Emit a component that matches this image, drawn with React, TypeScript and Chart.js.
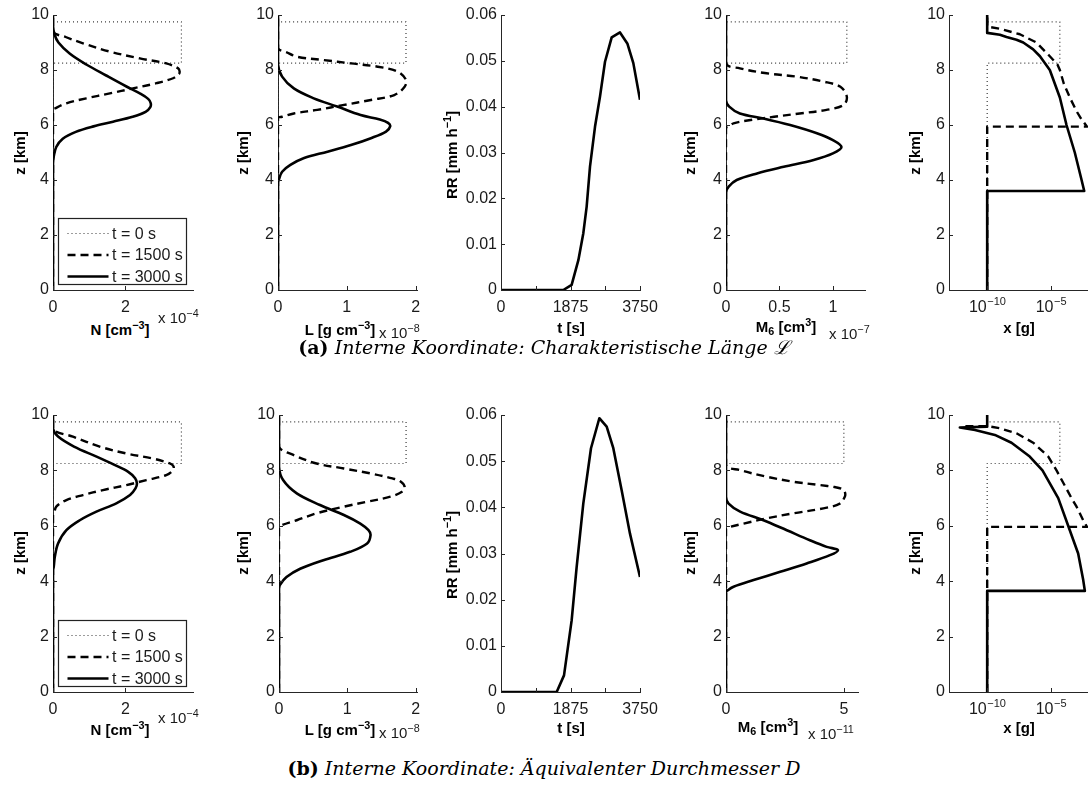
import React, { useEffect, useRef } from 'react';
import { Chart, registerables } from 'chart.js';

Chart.register(...registerables);

// ======================= DATA =======================
const SERIES_LABELS = ['t = 0 s', 't = 1500 s', 't = 3000 s'];

const Z_TICKS = [0, 2, 4, 6, 8, 10];
const RR_TICKS = [0, 0.01, 0.02, 0.03, 0.04, 0.05, 0.06];
const T_TICKS = [0, 937.5, 1875, 2812.5, 3750];
const T_TICK_LABELS = [0, 1875, 3750];
const N_TICKS = [0, 2];
const L_TICKS = [0, 1, 2];
const M6A_TICKS = [0, 0.5, 1];
const M6B_TICKS = [0, 5];
const X_TICKS = [1e-10, 1e-5];

// t = 0 s : initial top-hat layer
const Z_INIT = [0, 8.25, 8.25, 9.75, 9.75, 10];
const N_INIT = [0, 0, 3.55, 3.55, 0, 0];
const L_INIT = [0, 0, 1.86, 1.86, 0, 0];
const M6A_INIT = [0, 0, 1.13, 1.13, 0, 0];
const M6B_INIT = [0, 0, 5.0, 5.0, 0, 0];
const X_INIT = [1e-10, 1e-10, 5.1e-5, 5.1e-5, 1e-10, 1e-10];

// ---- (a) characteristic length ----
const NA_Z1500 = [0, 6.55, 6.6, 6.79, 6.97, 7.15, 7.33, 7.52, 7.7, 7.85, 7.95, 8.06, 8.24, 8.42, 8.67, 8.97, 9.2, 9.39, 10];
const NA_1500 = [0, 0, 0.05, 0.37, 0.92, 1.57, 2.21, 2.86, 3.32, 3.48, 3.5, 3.46, 3.13, 2.4, 1.57, 0.83, 0.35, 0, 0];
const NA_Z3000 = [0, 4.6, 4.85, 5.2, 5.5, 5.75, 5.95, 6.12, 6.3, 6.48, 6.65, 6.8, 6.95, 7.15, 7.4, 7.8, 8.2, 8.6, 9.0, 9.3, 9.6, 10];
const NA_3000 = [0, 0, 0.02, 0.09, 0.27, 0.63, 1.12, 1.66, 2.2, 2.56, 2.69, 2.7, 2.63, 2.4, 2.03, 1.47, 0.92, 0.46, 0.15, 0.04, 0, 0];

const LA_Z1500 = [0, 6.25, 6.3, 6.42, 6.55, 6.73, 6.91, 7.09, 7.39, 7.64, 7.94, 8.12, 8.24, 8.36, 8.48, 8.65, 8.8, 10];
const LA_1500 = [0, 0, 0.06, 0.23, 0.57, 0.96, 1.35, 1.69, 1.84, 1.86, 1.74, 1.45, 1.06, 0.67, 0.28, 0.12, 0, 0];
const LA_Z3000 = [0, 3.9, 4.0, 4.3, 4.55, 4.8, 5.03, 5.27, 5.52, 5.76, 5.95, 6.08, 6.2, 6.36, 6.67, 6.97, 7.33, 7.76, 8.2, 10];
const LA_3000 = [0, 0, 0.01, 0.06, 0.18, 0.38, 0.72, 1.06, 1.35, 1.57, 1.63, 1.6, 1.48, 1.2, 0.86, 0.52, 0.23, 0.06, 0, 0];

const RRA_T = [0, 1680, 1906, 2087, 2221, 2311, 2401, 2536, 2671, 2806, 2986, 3210, 3408, 3570, 3750];
const RRA = [0, 0, 0.0011, 0.0065, 0.0124, 0.0182, 0.0269, 0.0356, 0.0422, 0.0498, 0.0551, 0.0562, 0.0538, 0.0495, 0.0415];

const MA_Z1500 = [0, 5.9, 5.94, 6.06, 6.18, 6.3, 6.42, 6.55, 6.73, 7.03, 7.39, 7.58, 7.76, 7.88, 8.06, 8.24, 10];
const MA_1500 = [0, 0, 0.02, 0.07, 0.23, 0.45, 0.69, 0.94, 1.1, 1.13, 1.07, 0.91, 0.66, 0.38, 0.13, 0, 0];
const MA_Z3000 = [0, 3.55, 3.76, 4.0, 4.24, 4.48, 4.73, 4.97, 5.2, 5.45, 5.7, 6.0, 6.24, 6.42, 6.67, 6.9, 10];
const MA_3000 = [0, 0, 0.025, 0.1, 0.29, 0.54, 0.82, 1.0, 1.08, 1.0, 0.85, 0.6, 0.35, 0.13, 0.03, 0, 0];

const XA_Z1500 = [0, 5.94, 5.94, 6.2, 6.5, 7.0, 7.5, 8.0, 8.2, 8.5, 9.0, 9.3, 9.5, 9.58, 10];
const XA_1500 = [1e-10, 1e-10, 7e-3, 2.6e-3, 1.05e-3, 3.1e-4, 1.05e-4, 5.1e-5, 3.3e-5, 8.3e-6, 7.4e-7, 3.7e-8, 1e-9, 1e-10, 1e-10];
const XA_Z3000 = [0, 3.6, 3.6, 4.0, 5.0, 6.0, 7.0, 8.0, 8.5, 8.75, 9.0, 9.1, 9.2, 9.28, 9.35, 10];
const XA_3000 = [1e-10, 1e-10, 4.2e-3, 2.6e-3, 7.6e-4, 1.7e-4, 5.1e-5, 8.3e-6, 1.4e-6, 4.1e-7, 6.8e-8, 2e-8, 3.3e-9, 1e-9, 1e-10, 1e-10];

// ---- (b) equivalent diameter ----
const NB_Z1500 = [0, 6.4, 6.45, 6.69, 6.93, 7.11, 7.29, 7.47, 7.65, 7.83, 8.01, 8.15, 8.25, 8.43, 8.61, 8.86, 9.22, 9.48, 10];
const NB_1500 = [0, 0, 0.03, 0.09, 0.37, 0.83, 1.38, 2.03, 2.58, 3.13, 3.32, 3.33, 3.23, 2.76, 2.03, 1.29, 0.55, 0, 0];
const NB_Z3000 = [0, 4.4, 4.52, 4.88, 5.36, 5.84, 6.2, 6.51, 6.81, 7.11, 7.35, 7.53, 7.72, 7.95, 8.2, 8.49, 8.86, 9.22, 9.5, 10];
const NB_3000 = [0, 0, 0.02, 0.05, 0.14, 0.37, 0.74, 1.2, 1.75, 2.13, 2.28, 2.32, 2.27, 2.08, 1.7, 1.22, 0.58, 0.14, 0, 0];

const LB_Z1500 = [0, 5.95, 6.02, 6.2, 6.45, 6.69, 6.87, 7.05, 7.23, 7.4, 7.6, 7.71, 7.89, 8.07, 8.25, 8.56, 8.86, 10];
const LB_1500 = [0, 0, 0.04, 0.26, 0.55, 0.95, 1.29, 1.63, 1.8, 1.84, 1.78, 1.66, 1.34, 0.95, 0.55, 0.21, 0, 0];
const LB_Z3000 = [0, 3.7, 3.85, 4.15, 4.45, 4.76, 5.06, 5.36, 5.66, 5.84, 6.08, 6.39, 6.75, 7.17, 7.65, 8.13, 10];
const LB_3000 = [0, 0, 0.01, 0.11, 0.31, 0.65, 1.04, 1.29, 1.34, 1.31, 1.19, 0.95, 0.6, 0.26, 0.06, 0, 0];

const RRB_T = [0, 1502, 1700, 1906, 2040, 2220, 2428, 2653, 2851, 3030, 3255, 3480, 3750];
const RRB = [0, 0, 0.0036, 0.0155, 0.027, 0.0408, 0.0528, 0.0593, 0.0575, 0.0528, 0.0437, 0.0343, 0.0249];

const MB_Z1500 = [0, 5.9, 5.96, 6.08, 6.27, 6.45, 6.63, 6.8, 7.05, 7.2, 7.32, 7.4, 7.47, 7.59, 7.77, 8.01, 8.19, 10];
const MB_1500 = [0, 0, 0.18, 0.75, 1.73, 2.86, 4.13, 4.83, 5.04, 5.05, 4.95, 4.6, 3.99, 2.86, 1.73, 0.6, 0, 0];
const MB_Z3000 = [0, 3.6, 3.67, 3.8, 4.04, 4.34, 4.64, 4.94, 5.12, 5.24, 5.48, 5.84, 6.2, 6.51, 6.8, 7.05, 10];
const MB_3000 = [0, 0, 0.07, 0.32, 1.17, 2.3, 3.42, 4.41, 4.75, 4.27, 3.56, 2.58, 1.59, 0.6, 0.11, 0, 0];

const XB_Z1500 = [0, 5.96, 5.96, 6.2, 6.69, 7.0, 8.0, 8.5, 9.0, 9.34, 9.52, 9.6, 9.6];
const XB_1500 = [1e-10, 1e-10, 7e-3, 3.5e-3, 1.05e-3, 4.2e-4, 2.8e-5, 6.3e-6, 4.1e-7, 2e-8, 1e-9, 1e-10, 8e-13];
const XB_Z3000 = [0, 3.65, 3.65, 4.04, 5.0, 6.0, 7.0, 8.0, 8.5, 9.0, 9.28, 9.46, 9.55, 9.58, 10];
const XB_3000 = [1e-10, 1e-10, 4.7e-3, 3.5e-3, 1.4e-3, 2.3e-4, 3.8e-5, 2.2e-6, 2.2e-7, 8.1e-9, 4e-10, 1.1e-11, 7.1e-13, 1e-10, 1e-10];

// ======================= STYLE =======================
const SANS = '"Liberation Sans", Arial, Helvetica, sans-serif';
const SERIF = '"DejaVu Serif", "Liberation Serif", serif';
const AXIS = '#262626';
const TEXT = '#1a1a1a';
const YW = 48;
const PT = 12;
const PR = 24;
const XH = 28;

type StyleKey = 'solid' | 'dash' | 'dot';
const LINE_STYLES: Record<StyleKey, { color: string; width: number; dash: number[]; order: number }> = {
  solid: { color: '#000', width: 2.6, dash: [], order: 0 },
  dash: { color: '#000', width: 2.4, dash: [8, 5], order: 1 },
  dot: { color: '#3a3a3a', width: 1.2, dash: [1, 3], order: 2 },
};
const LEGEND_STYLES: StyleKey[] = ['dot', 'dash', 'solid'];

type SeriesSpec = [number[], number[], StyleKey];
type PanelSpec = {
  left: number; top: number; w: number; h: number;
  xType: 'linear' | 'logarithmic'; xMin: number; xMax: number; xTicks: number[]; xFmt: (v: number) => string;
  yMax: number; yTicks: number[];
  tension: number; legend?: boolean; logLabels?: boolean;
  series: SeriesSpec[];
};

const numFmt = (v: number) => String(v);
const tFmt = (v: number) => (T_TICK_LABELS.includes(v) ? String(v) : '');
const blankFmt = () => '';

function profilePanels(row: 'a' | 'b'): PanelSpec[] {
  const top = row === 'a' ? 15 : 415;
  const h = row === 'a' ? 275 : 277;
  const A = row === 'a';
  return [
    {
      left: 53, top, w: 140, h, xType: 'linear', xMin: 0, xMax: 3.87, xTicks: N_TICKS, xFmt: numFmt,
      yMax: 10, yTicks: Z_TICKS, tension: 0.35, legend: true,
      series: [[A ? NA_3000 : NB_3000, A ? NA_Z3000 : NB_Z3000, 'solid'], [A ? NA_1500 : NB_1500, A ? NA_Z1500 : NB_Z1500, 'dash'], [N_INIT, Z_INIT, 'dot']],
    },
    {
      left: A ? 278 : 279, top, w: A ? 139 : 138, h, xType: 'linear', xMin: 0, xMax: 2.02, xTicks: L_TICKS, xFmt: numFmt,
      yMax: 10, yTicks: Z_TICKS, tension: 0.35,
      series: [[A ? LA_3000 : LB_3000, A ? LA_Z3000 : LB_Z3000, 'solid'], [A ? LA_1500 : LB_1500, A ? LA_Z1500 : LB_Z1500, 'dash'], [L_INIT, Z_INIT, 'dot']],
    },
    {
      left: 501, top, w: 139, h, xType: 'linear', xMin: 0, xMax: 3750, xTicks: T_TICKS, xFmt: tFmt,
      yMax: 0.06, yTicks: RR_TICKS, tension: 0,
      series: [[A ? RRA_T : RRB_T, A ? RRA : RRB, 'solid']],
    },
    {
      left: 726, top, w: A ? 139 : 132, h, xType: 'linear', xMin: 0, xMax: A ? 1.3 : 5.6, xTicks: A ? M6A_TICKS : M6B_TICKS, xFmt: numFmt,
      yMax: 10, yTicks: Z_TICKS, tension: 0.35,
      series: [[A ? MA_3000 : MB_3000, A ? MA_Z3000 : MB_Z3000, 'solid'], [A ? MA_1500 : MB_1500, A ? MA_Z1500 : MB_Z1500, 'dash'], [A ? M6A_INIT : M6B_INIT, Z_INIT, 'dot']],
    },
    {
      left: 949, top, w: 139, h, xType: 'logarithmic', xMin: 1e-13, xMax: 8.3e-3, xTicks: X_TICKS, xFmt: blankFmt,
      yMax: 10, yTicks: Z_TICKS, tension: 0, logLabels: true,
      series: [[A ? XA_3000 : XB_3000, A ? XA_Z3000 : XB_Z3000, 'solid'], [A ? XA_1500 : XB_1500, A ? XA_Z1500 : XB_Z1500, 'dash'], [X_INIT, Z_INIT, 'dot']],
    },
  ];
}

const PANELS: PanelSpec[] = [...profilePanels('a'), ...profilePanels('b')];

// ======================= PLUGINS =======================
const inwardTicks = {
  id: 'inwardTicks',
  afterDraw(chart: any) {
    const { ctx, chartArea: a, scales } = chart;
    const x = scales.x, y = scales.y;
    ctx.save();
    ctx.strokeStyle = AXIS;
    ctx.lineWidth = 1;
    ctx.setLineDash([]);
    ctx.beginPath();
    for (const t of x.ticks) {
      const p = Math.round(x.getPixelForValue(t.value)) + 0.5;
      ctx.moveTo(p, a.bottom);
      ctx.lineTo(p, a.bottom - 4);
    }
    for (const t of y.ticks) {
      const p = Math.round(y.getPixelForValue(t.value)) + 0.5;
      ctx.moveTo(a.left, p);
      ctx.lineTo(a.left + 4, p);
    }
    ctx.stroke();
    ctx.restore();
  },
};

const legendBox = {
  id: 'legendBox',
  afterDraw(chart: any) {
    const { ctx, chartArea: a } = chart;
    const w = 128, h = 66;
    const x0 = Math.round(a.left + 5) + 0.5;
    const y0 = Math.round(a.bottom - 6 - h) + 0.5;
    ctx.save();
    ctx.fillStyle = '#fff';
    ctx.fillRect(x0, y0, w, h);
    ctx.strokeStyle = '#222';
    ctx.lineWidth = 1.2;
    ctx.setLineDash([]);
    ctx.strokeRect(x0, y0, w, h);
    SERIES_LABELS.forEach((lab, i) => {
      const cy = y0 + 15 + i * 21.5;
      const st = LINE_STYLES[LEGEND_STYLES[i]];
      ctx.setLineDash(st.dash);
      ctx.lineWidth = st.width;
      ctx.strokeStyle = st.color;
      ctx.beginPath();
      ctx.moveTo(x0 + 9, cy);
      ctx.lineTo(x0 + 50, cy);
      ctx.stroke();
      ctx.setLineDash([]);
      ctx.fillStyle = TEXT;
      ctx.font = `16px ${SANS}`;
      ctx.textBaseline = 'middle';
      ctx.textAlign = 'left';
      ctx.fillText(lab, x0 + 53.5, cy + 1);
    });
    ctx.restore();
  },
};

const logTickLabels = {
  id: 'logTickLabels',
  afterDraw(chart: any) {
    const { ctx, chartArea: a } = chart;
    const s = chart.scales.x;
    ctx.save();
    ctx.fillStyle = TEXT;
    ctx.textBaseline = 'alphabetic';
    ctx.textAlign = 'left';
    for (const t of s.ticks) {
      const px = s.getPixelForValue(t.value);
      const e = Math.round(Math.log10(t.value));
      const base = '10';
      const sup = '\u2212' + Math.abs(e);
      ctx.font = `16px ${SANS}`;
      const w1 = ctx.measureText(base).width;
      ctx.font = `11px ${SANS}`;
      const w2 = ctx.measureText(sup).width;
      const x0 = px - (w1 + w2) / 2;
      const by = a.bottom + 22;
      ctx.font = `16px ${SANS}`;
      ctx.fillText(base, x0, by);
      ctx.font = `11px ${SANS}`;
      ctx.fillText(sup, x0 + w1 + 0.5, by - 7.5);
    }
    ctx.restore();
  },
};

function makeAxis(kind: 'x' | 'y', type: string, min: number, max: number, ticks: number[], fmt: (v: number) => string) {
  return {
    type,
    min,
    max,
    position: kind === 'x' ? 'bottom' : 'left',
    afterBuildTicks: (s: any) => {
      s.ticks = ticks.map((v) => ({ value: v }));
    },
    afterFit: (s: any) => {
      if (kind === 'x') {
        s.height = XH;
        s.paddingLeft = 0;
        s.paddingRight = 0;
      } else {
        s.width = YW;
        s.paddingTop = 0;
        s.paddingBottom = 0;
      }
    },
    grid: { display: false, drawTicks: false, tickLength: 0 },
    border: { display: true, color: AXIS, width: 1 },
    ticks: {
      autoSkip: false,
      maxRotation: 0,
      minRotation: 0,
      padding: kind === 'x' ? 8 : 4,
      color: TEXT,
      font: { family: SANS, size: 16 },
      callback: (v: any) => fmt(Number(v)),
    },
  };
}

function Panel({ p }: { p: PanelSpec }) {
  const ref = useRef<HTMLCanvasElement | null>(null);
  const W = p.w + YW + PR;
  const H = p.h + PT + XH;
  useEffect(() => {
    const canvas = ref.current;
    if (!canvas) return;
    const plugins: any[] = [inwardTicks];
    if (p.legend) plugins.push(legendBox);
    if (p.logLabels) plugins.push(logTickLabels);
    const datasets = p.series.map(([xs, zs, key]) => {
      const st = LINE_STYLES[key];
      return {
        label: key,
        data: xs.map((x, i) => ({ x, y: zs[i] })),
        showLine: true,
        borderColor: st.color,
        borderWidth: st.width,
        borderDash: st.dash,
        borderCapStyle: 'butt',
        borderJoinStyle: 'round',
        pointRadius: 0,
        pointHoverRadius: 0,
        tension: key === 'dot' ? 0 : p.tension,
        fill: false,
        order: st.order,
      };
    });
    const chart = new Chart(canvas, {
      type: 'scatter',
      data: { datasets } as any,
      options: {
        responsive: false,
        animation: false,
        devicePixelRatio: 1,
        events: [],
        layout: { padding: { top: PT, right: PR, left: 0, bottom: 0 } },
        plugins: { legend: { display: false }, tooltip: { enabled: false }, title: { display: false } },
        scales: {
          x: makeAxis('x', p.xType, p.xMin, p.xMax, p.xTicks, p.xFmt),
          y: makeAxis('y', 'linear', 0, p.yMax, p.yTicks, numFmt),
        },
      } as any,
      plugins,
    });
    return () => chart.destroy();
  }, [p]);
  return (
    <canvas
      ref={ref}
      width={W}
      height={H}
      style={{ position: 'absolute', left: p.left - YW, top: p.top - PT, width: W, height: H }}
    />
  );
}

// ======================= TEXT OVERLAYS =======================
const supStyle: React.CSSProperties = { fontSize: '0.72em', position: 'relative', top: '-0.55em', lineHeight: 0 };
const subStyle: React.CSSProperties = { fontSize: '0.72em', position: 'relative', top: '0.3em', lineHeight: 0 };
const titleStyle: React.CSSProperties = { fontFamily: SANS, fontWeight: 'bold', fontSize: 15, color: '#000' };
const expStyle: React.CSSProperties = { fontFamily: SANS, fontSize: 15, color: TEXT };

function Txt({ x, y, rot, left, style, children }: any) {
  const tr = left ? 'translate(0,-50%)' : `translate(-50%,-50%)${rot ? ' rotate(-90deg)' : ''}`;
  return (
    <div style={{ position: 'absolute', left: x, top: y, transform: tr, whiteSpace: 'nowrap', lineHeight: 1, ...style }}>
      {children}
    </div>
  );
}

function RowLabels({ dy, row }: { dy: number; row: 'a' | 'b' }) {
  const A = row === 'a';
  return (
    <>
      <Txt x={19} y={153 + dy} rot style={titleStyle}>z [km]</Txt>
      <Txt x={242} y={153 + dy} rot style={titleStyle}>z [km]</Txt>
      <Txt x={451} y={155 + dy} rot style={titleStyle}>RR [mm h<span style={supStyle}>−1</span>]</Txt>
      <Txt x={689} y={153 + dy} rot style={titleStyle}>z [km]</Txt>
      <Txt x={914} y={153 + dy} rot style={titleStyle}>z [km]</Txt>

      <Txt x={120} y={329 + dy} style={titleStyle}>N [cm<span style={supStyle}>−3</span>]</Txt>
      <Txt x={158} y={317 + dy} left style={expStyle}>x 10<span style={supStyle}>−4</span></Txt>
      <Txt x={340} y={329 + dy} style={titleStyle}>L [g cm<span style={supStyle}>−3</span>]</Txt>
      <Txt x={379} y={332 + dy} left style={expStyle}>x 10<span style={supStyle}>−8</span></Txt>
      <Txt x={571} y={327 + dy} style={titleStyle}>t [s]</Txt>
      <Txt x={A ? 786 : 768} y={326 + dy} style={titleStyle}>M<span style={subStyle}>6</span> [cm<span style={supStyle}>3</span>]</Txt>
      <Txt x={A ? 829 : 808} y={333 + dy} left style={expStyle}>x 10<span style={supStyle}>{A ? '−7' : '−11'}</span></Txt>
      <Txt x={1019} y={327 + dy} style={titleStyle}>x [g]</Txt>
    </>
  );
}

const captionStyle: React.CSSProperties = {
  position: 'absolute', left: 0, width: 1088, textAlign: 'center', fontFamily: SERIF, fontSize: 19, lineHeight: '24px', color: '#000',
};

export default function App() {
  return (
    <div style={{ position: 'fixed', left: 0, top: 0, width: 1088, height: 785, overflow: 'hidden', background: '#fff' }}>
      {PANELS.map((p, i) => (
        <Panel key={i} p={p} />
      ))}
      <RowLabels dy={0} row="a" />
      <RowLabels dy={400} row="b" />
      <div style={{ ...captionStyle, top: 335 }}>
        <b>(a)</b> <i>Interne Koordinate: Charakteristische Länge ℒ</i>
      </div>
      <div style={{ ...captionStyle, top: 756 }}>
        <b>(b)</b> <i>Interne Koordinate: Äquivalenter Durchmesser D</i>
      </div>
    </div>
  );
}
